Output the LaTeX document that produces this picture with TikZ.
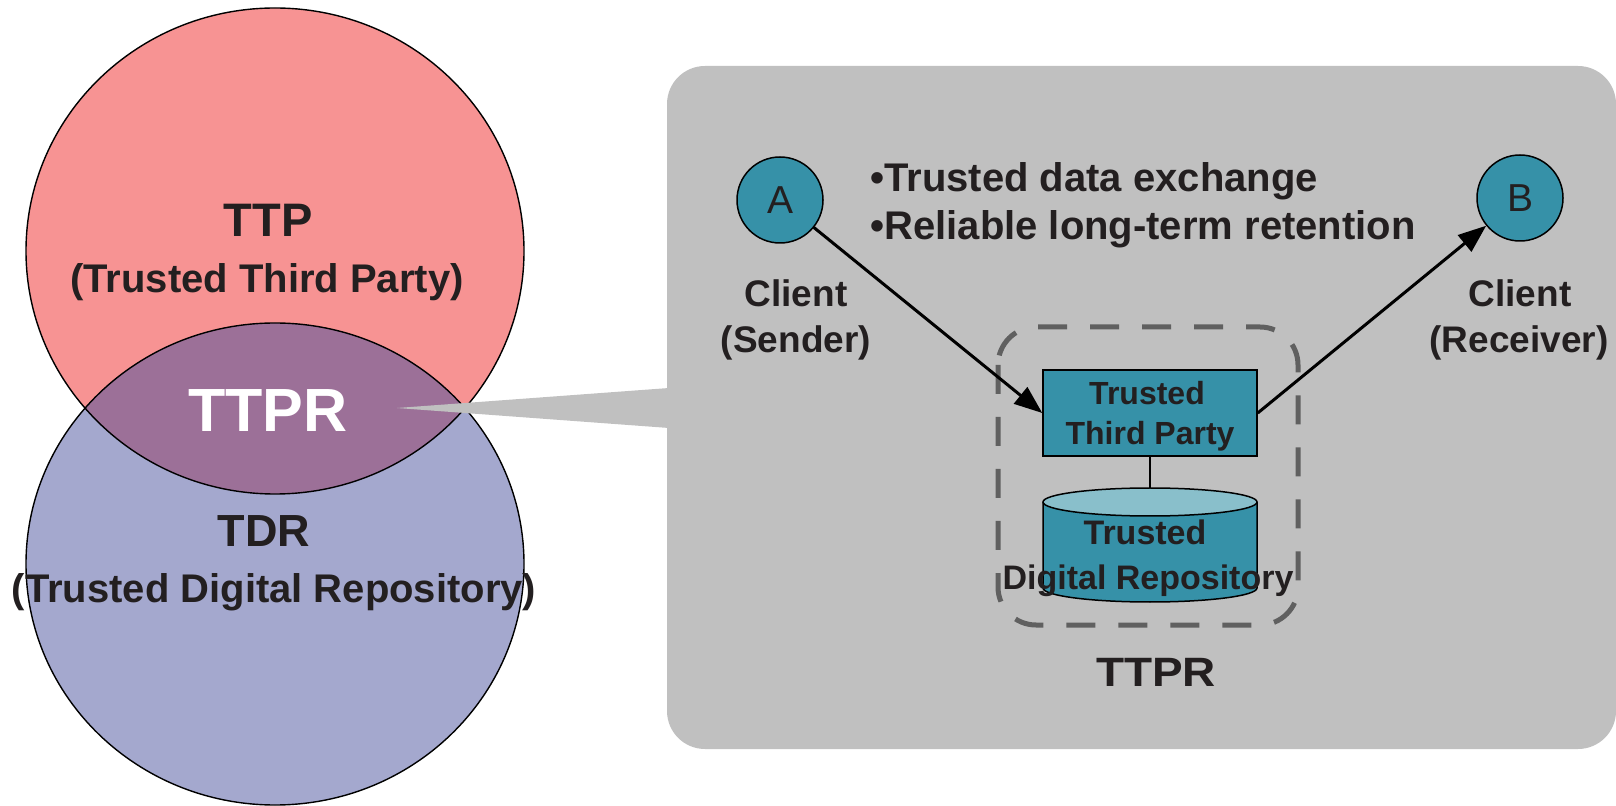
\documentclass[tikz,border=0pt]{standalone}
\usepackage{fontspec}
\setmainfont{Liberation Sans}
\usetikzlibrary{arrows.meta}
\definecolor{ttpred}{RGB}{247,147,147}
\definecolor{tdrblue}{RGB}{164,168,206}
\definecolor{ttprpurple}{RGB}{156,112,152}
\definecolor{panelgray}{RGB}{192,192,192}
\definecolor{tealfill}{RGB}{54,145,168}
\definecolor{cyltopfill}{RGB}{137,191,203}
\definecolor{dashgray}{RGB}{96,96,96}
\definecolor{txtdark}{RGB}{35,31,32}
\begin{document}
\begin{tikzpicture}[x=0.5pt,y=-0.5pt,
  txt/.style={inner sep=0pt, anchor=base, text=txtdark},
  bigb/.style={txt, font=\fontsize{23.5}{28}\selectfont\bfseries},
  subb/.style={txt, font=\fontsize{20}{24}\selectfont\bfseries},
  clientlbl/.style={txt, font=\fontsize{18.5}{22}\selectfont\bfseries},
  boxlbl/.style={txt, font=\fontsize{16}{19}\selectfont\bfseries},
  cyllbl/.style={txt, font=\fontsize{17}{20}\selectfont\bfseries},
  clientnode/.style={circle, draw=black, line width=0.75pt, fill=tealfill, minimum size=43pt, inner sep=0pt, text=txtdark, font=\fontsize{19.5}{22}\selectfont},
  arr/.style={line width=1.5pt, -{Triangle[length=14pt,width=10.5pt]}},
  outline/.style={draw=black, line width=0.7pt}
]
\useasboundingbox (0,0) rectangle (1616,806);

% Venn diagram
\fill[ttpred] (275,251) ellipse [x radius=249, y radius=243];
\fill[tdrblue] (275,564) ellipse [x radius=249, y radius=241];
\begin{scope}
  \clip (275,251) ellipse [x radius=249, y radius=243];
  \fill[ttprpurple] (275,564) ellipse [x radius=249, y radius=241];
\end{scope}
\draw[outline] (275,251) ellipse [x radius=249, y radius=243];
\draw[outline] (275,564) ellipse [x radius=249, y radius=241];

% panel and pointer
\fill[panelgray, rounded corners=19pt] (667,66) rectangle (1616,749);
\fill[panelgray] (397,408) -- (669,388) -- (669,428) -- cycle;

% Venn texts
\node[bigb] (ttp) at (268,237) {TTP};
\node[subb] (ttpfull) at (267,293) {(Trusted Third Party)};
\node[txt, text=white, font=\fontsize{30.5}{34}\selectfont\bfseries] (ttprw) at (268,432) {TTPR};
\node[txt, font=\fontsize{22.5}{26}\selectfont\bfseries] (tdr) at (264,546) {TDR};
\node[subb] (tdrfull) at (274,602) {(Trusted Digital Repository)};

% dashed frame
\draw[dashgray, line width=2.5pt, dash pattern=on 14.5pt off 11.5pt, rounded corners=19pt] (998,327) rectangle (1298,625);

% cylinder (repository)
\filldraw[fill=tealfill, draw=black, line width=0.75pt] (1043,502) -- (1043,588) arc[start angle=180, end angle=0, x radius=107, y radius=14] -- (1257,502);
\filldraw[fill=cyltopfill, draw=black, line width=0.75pt] (1150,502) ellipse [x radius=107, y radius=14];
\coordinate (cyltop) at (1150,488);

% trusted third party box
\node[draw=black, line width=0.75pt, fill=tealfill, minimum width=107pt, minimum height=43pt, inner sep=0pt] (box) at (1150,413) {};
\draw[line width=0.75pt] (box.south) -- (cyltop);

\node[boxlbl] (boxt1) at (1147,405) {Trusted};
\node[boxlbl] (boxt2) at (1150,445) {Third Party};
\node[cyllbl] (cylt1) at (1145,545) {Trusted};
\node[cyllbl] (cylt2) at (1148,589) {Digital Repository};

% clients
\node[clientnode] (A) at (780,200) {A};
\node[clientnode] (B) at (1520,198) {B};
\node[clientlbl] (cla1) at (796,307) {Client};
\node[clientlbl] (cla2) at (796,353) {(Sender)};
\node[clientlbl] (clb1) at (1520,307) {Client};
\node[clientlbl] (clb2) at (1519,353) {(Receiver)};

\draw[arr] (A) -- (box.west);
\draw[arr] (box.east) -- (B);

% bullets
\node[txt, anchor=base west, font=\fontsize{20}{24}\selectfont\bfseries] (bul1) at (870,192) {•Trusted data exchange};
\node[txt, anchor=base west, font=\fontsize{20}{24}\selectfont\bfseries] (bul2) at (870,240) {•Reliable long-term retention};

% bottom label
\node[txt, font=\fontsize{20.5}{24}\selectfont\bfseries] (ttprlbl) at (1156,686) {\scalebox{1.12}[1]{TTPR}};
\end{tikzpicture}
\end{document}
